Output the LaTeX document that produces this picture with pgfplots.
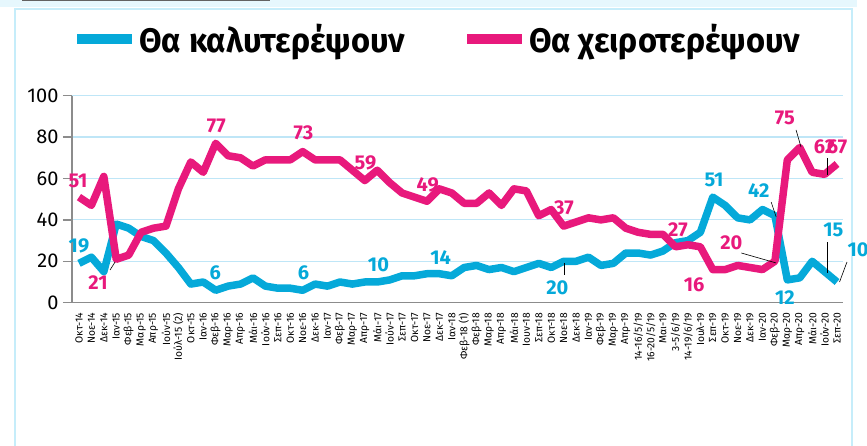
\documentclass[border=0pt]{standalone}
\usepackage{pgfplots}
\pgfplotsset{compat=1.18}
\usepackage{fontspec}
\setmainfont{Fira Sans}
\definecolor{cBlue}{HTML}{05A9D9}
\definecolor{cPink}{HTML}{E8197C}
\definecolor{cGrid}{HTML}{BFE6F7}
\definecolor{cFrame}{HTML}{C6EDFA}
\definecolor{cBand}{HTML}{E6F7FD}
\definecolor{cAxis}{HTML}{8C8C8C}

\pgfplotstableread{
i better worse
1 19 51
2 22 47
3 15 61
4 38 21
5 36 23
6 32 34
7 30 36
8 24 37
9 17 55
10 9 68
11 10 63
12 6 77
13 8 71
14 9 70
15 12 66
16 8 69
17 7 69
18 7 69
19 6 73
20 9 69
21 8 69
22 10 69
23 9 64
24 10 59
25 10 64
26 11 58
27 13 53
28 13 51
29 14 49
30 14 55
31 13 53
32 17 48
33 18 48
34 16 53
35 17 47
36 15 55
37 17 54
38 19 42
39 17 45
40 20 37
41 20 39
42 22 41
43 18 40
44 19 41
45 24 36
46 24 34
47 23 33
48 25 33
49 29 27
50 30 28
51 34 27
52 51 16
53 47 16
54 41 18
55 40 17
56 45 16
57 42 20
58 11 69
59 12 75
60 20 63
61 15 62
62 10 67
}\data

\begin{document}
\begin{tikzpicture}
\path[use as bounding box] (0,0) rectangle (867pt,446pt);
% frame around the chart
\fill[cBand] (0,439pt) rectangle (857pt,446pt);
\draw[cAxis!70!black,line width=1pt] (22pt,445.5pt) -- (270pt,445.5pt);
\draw[cFrame,line width=2pt] (15pt,-2pt) -- (15pt,437pt) -- (852pt,437pt) -- (852pt,-2pt);

\begin{axis}[scale only axis,width=771pt,height=207pt,
at={(72pt,143.3pt)},anchor=south west,clip=false,
xmin=0.44,xmax=62.48,ymin=0,ymax=100,
axis x line*=bottom,axis y line*=left,
axis line style={cAxis,line width=1.5pt},
ytick={0,20,...,100},
ymajorgrids,grid style={cGrid,line width=1.2pt},
major tick length=9pt,
y tick style={cAxis,line width=1.3pt},
tick align=outside,
y tick label style={font=\fontsize{20}{20}\selectfont,xshift=-1pt},
/pgf/number format/assume math mode=true,
xtick={1,...,62},
x tick style={draw=none},
x tick label style={rotate=90,anchor=east,font=\fontsize{10.3}{10.3}\selectfont,inner sep=1pt},
xticklabels={Οκτ-14,Νοε-14,Δεκ-14,Ιαν-15,Φεβ-15,Μαρ-15,Απρ-15,Ιούν-15,{Ιούλ-15 (2)},Οκτ-15,Ιαν-16,Φεβ-16,Μαρ-16,Απρ-16,Μάι-16,Ιούν-16,Σεπ-16,Οκτ-16,Νοε-16,Δεκ-16,Ιαν-17,Φεβ-17,Μαρ-17,Απρ-17,Μάι-17,Ιούν-17,Σεπ-17,Οκτ-17,Νοε-17,Δεκ-17,Ιαν-18,{Φεβ-18 (1)},Φεβ-18,Μαρ-18,Απρ-18,Μάι-18,Ιουν-18,Σεπ-18,Οκτ-18,Νοε-18,Δεκ-18,Ιαν-19,Φεβ-19,Μαρ-19,Απρ-19,{14-16/5/19},{16-20/5/19},Μαι-19,{3-5/6/19},{14-19/6/19},Ιουλ-19,Σεπ-19,Οκτ-19,Νοε-19,Δεκ-19,Ιαν-20,Φεβ-20,Μαρ-20,Απρ-20,Μάι-20,Ιούν-20,Σεπ-20},
legend columns=2,
legend style={draw=none,fill=none,at={(0.0,1.275)},anchor=west,inner sep=0pt,
nodes={inner xsep=2pt},
font=\fontsize{34}{34}\selectfont\bfseries,
/tikz/every even column/.append style={column sep=55pt}},
legend image code/.code={\draw[line width=10pt,#1] (0pt,0pt) -- (55pt,0pt);},
]
\addplot[cBlue,line width=7.5pt,line join=round] table[x=i,y=better] {\data};
\addlegendentry{\scalebox{0.96}[1]{Θα καλυτερέψουν}}
\addplot[cPink,line width=7.5pt,line join=round] table[x=i,y=worse] {\data};
\addlegendentry{\scalebox{0.96}[1]{Θα χειροτερέψουν}}

% leader lines
\draw[black,line width=0.6pt] (axis cs:3.5,15.8) -- (axis cs:3.9,19.6);
\draw[black,line width=0.6pt] (axis cs:40.03,19.2) -- (axis cs:40.03,13.4);
\draw[black,line width=0.6pt] (axis cs:58.7,83.5) -- (axis cs:59.1,75.2);
\draw[black,line width=0.6pt] (axis cs:61.2,69.9) -- (axis cs:61.2,61.7);
\draw[black,line width=0.6pt] (axis cs:54.3,24) -- (axis cs:57.1,19.2);
\draw[black,line width=0.6pt] (axis cs:56.7,48.6) -- (axis cs:57.1,41.4);
\draw[black,line width=0.6pt] (axis cs:61.2,29.3) -- (axis cs:61.2,14.3);
\draw[black,line width=0.6pt] (axis cs:62.8,19.7) -- (axis cs:62.2,10);

% data labels
\begin{scope}[every node/.style={font=\fontsize{20}{20}\selectfont\bfseries,inner sep=0pt}]
\node[cPink] at (axis cs:0.92,58.8) {51};
\node[cPink] at (axis cs:2.53,9.5) {21};
\node[cPink] at (axis cs:12.05,85.4) {77};
\node[cPink] at (axis cs:19.06,82) {73};
\node[cPink] at (axis cs:24.06,67.5) {59};
\node[cPink] at (axis cs:29.06,56.9) {49};
\node[cPink] at (axis cs:40.03,45.7) {37};
\node[cPink] at (axis cs:49.2,35.1) {27};
\node[cPink] at (axis cs:50.5,8.6) {16};
\node[cPink] at (axis cs:53.5,28.8) {20};
\node[cPink] at (axis cs:57.8,89.2) {75};
\node[cPink] at (axis cs:61.0,75.2) {62};
\node[cPink] at (axis cs:62.0,75.2) {67};
\node[cBlue] at (axis cs:1.0,27.4) {19};
\node[cBlue] at (axis cs:11.97,14.3) {6};
\node[cBlue] at (axis cs:19.06,14.3) {6};
\node[cBlue] at (axis cs:25.1,18.2) {10};
\node[cBlue] at (axis cs:30.1,21.6) {14};
\node[cBlue] at (axis cs:39.5,7.1) {20};
\node[cBlue] at (axis cs:52.1,59.3) {51};
\node[cBlue] at (axis cs:55.7,54.4) {42};
\node[cBlue] at (axis cs:57.8,2.3) {12};
\node[cBlue] at (axis cs:61.7,35.1) {15};
\node[cBlue] at (axis cs:63.7,25.5) {10};
\end{scope}
\end{axis}
\end{tikzpicture}
\end{document}
